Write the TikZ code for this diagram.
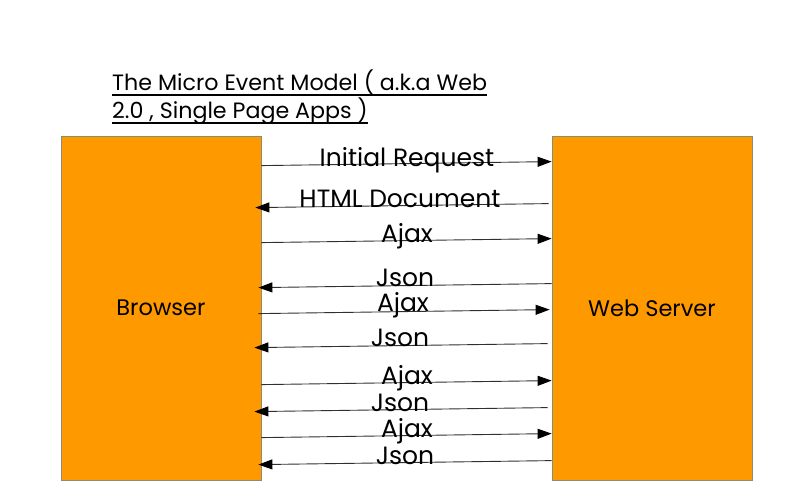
\documentclass[tikz,border=0pt]{standalone}
\usepackage{fontspec}
\setmainfont{Poppins}
\usetikzlibrary{arrows.meta}
\definecolor{boxorange}{HTML}{FF9900}
\definecolor{boxedge}{HTML}{8A8A7A}
\definecolor{linegray}{HTML}{303030}
\newcommand\myul[1]{\setbox0\hbox{#1}\rlap{\rule[-5pt]{\wd0}{1.8pt}}\box0}
\tikzset{
  x=1pt,y=-1pt,
  party/.style={draw=boxedge,line width=0.8pt,fill=boxorange,minimum width=200pt,minimum height=344pt,inner sep=0pt,font=\fontsize{22.5}{26}\selectfont},
  msg/.style={draw=linegray,line width=0.9pt,-{Triangle[length=14pt,width=10pt,color=black]}},
  lbl/.style={font=\fontsize{25}{29}\selectfont,inner sep=0pt,anchor=base}
}
\begin{document}
\begin{tikzpicture}
\useasboundingbox (0,0) rectangle (792,498);
\node[party] (b) at (161,308) {Browser};
\node[party] (s) at (652,308) {Web Server};
\node[anchor=north west,align=left,inner sep=0pt,font=\fontsize{22.2}{28}\selectfont] (t) at (112,70)
  {\myul{The Micro Event Model ( a.k.a Web}\\\myul{2.0 , Single Page Apps )}};
% messages
\draw[msg] ([yshift=-30]b.north east) -- ([yshift=-26]s.north west);
\draw[msg] ([xshift=-3,yshift=-68]s.north west) -- ([xshift=-6,yshift=-72]b.north east);
\draw[msg] ([yshift=-107]b.north east) -- ([yshift=-103]s.north west);
\draw[msg] ([yshift=-148]s.north west) -- ([xshift=-3,yshift=-152]b.north east);
\draw[msg] ([xshift=-3,yshift=-178]b.north east) -- ([xshift=-2,yshift=-174]s.north west);
\draw[msg] ([xshift=-4,yshift=-208]s.north west) -- ([xshift=-7,yshift=-212]b.north east);
\draw[msg] ([yshift=-249]b.north east) -- ([yshift=-245]s.north west);
\draw[msg] ([xshift=-4,yshift=-272]s.north west) -- ([xshift=-7,yshift=-276]b.north east);
\draw[msg] ([yshift=-302]b.north east) -- ([yshift=-298]s.north west);
\draw[msg] ([yshift=-325]s.north west) -- ([xshift=-3,yshift=-329]b.north east);
% labels
\node[lbl] (l1) at (407,166) {Initial Request};
\node[lbl] (l2) at (400,207) {HTML Document};
\node[lbl] (l3) at (407,242) {Ajax};
\node[lbl] (l4) at (405,286) {Json};
\node[lbl] (l5) at (403,311) {Ajax};
\node[lbl] (l6) at (400,346) {Json};
\node[lbl] (l7) at (407,384) {Ajax};
\node[lbl] (l8) at (400,411) {Json};
\node[lbl] (l9) at (407,437) {Ajax};
\node[lbl] (l10) at (405,464) {Json};
\end{tikzpicture}
\end{document}
